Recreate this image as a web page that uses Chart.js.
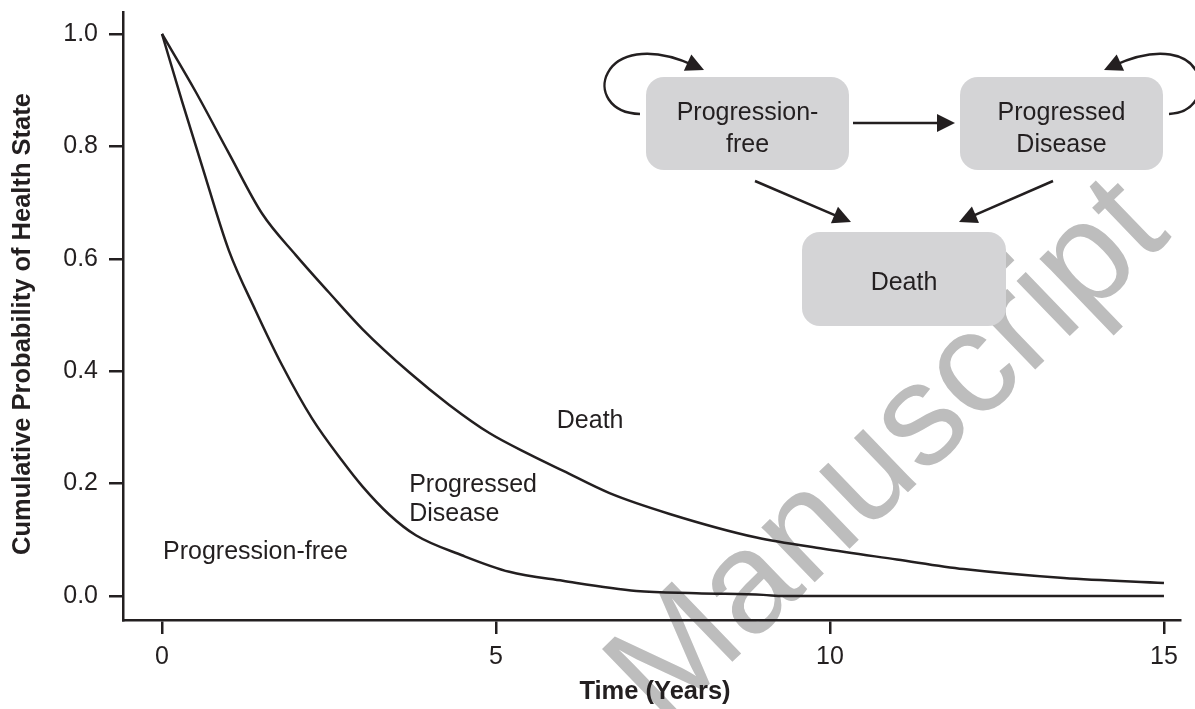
<!DOCTYPE html>
<html><head><meta charset="utf-8">
<script src="https://cdn.jsdelivr.net/npm/chart.js@4.4.1/dist/chart.umd.min.js"></script>
<style>html,body{margin:0;padding:0;background:#fff;} #wrap{width:1195px;height:709px;position:relative;}</style>
</head><body><div id="wrap"><canvas id="c"></canvas></div>
<script>
// Upper curve: probability alive (progression-free + progressed disease)
const aliveYears  = [0, 0.5, 1.0, 1.5, 2.0, 2.5, 3.0, 3.7, 4.3, 4.9, 5.5, 6.0, 6.7, 7.6, 8.9, 9.9, 11.0, 12.0, 13.5, 15];
const aliveValues = [1.0, 0.898, 0.788, 0.68, 0.607, 0.54, 0.475, 0.398, 0.34, 0.29, 0.252, 0.223, 0.183, 0.146, 0.104, 0.084, 0.065, 0.048, 0.032, 0.023];
// Lower curve: probability progression-free
const pfYears  = [0, 0.3, 0.6, 1.0, 1.4, 1.8, 2.25, 2.7, 3.0, 3.4, 3.8, 4.5, 5.2, 6.0, 7.1, 8.0, 9.0, 9.3, 15];
const pfValues = [1.0, 0.88, 0.765, 0.615, 0.508, 0.41, 0.315, 0.24, 0.195, 0.145, 0.108, 0.072, 0.043, 0.027, 0.009, 0.005, 0.002, 0, 0];
const xTicks = [0, 5, 10, 15];
const yTicks = [0, 0.2, 0.4, 0.6, 0.8, 1.0];
const regionLabels = ['Death', 'Progressed', 'Disease', 'Progression-free'];
const regionLabelX = [5.91, 3.70, 3.70, 0.015];
const regionLabelY = [0.311, 0.198, 0.146, 0.078];
const xTitle = 'Time (Years)';
const yTitle = 'Cumulative Probability of Health State';
const stateNames = [['Progression-', 'free'], ['Progressed', 'Disease'], ['Death']];

const INK = '#231f20';
const FONT = '"Liberation Sans", Arial, Helvetica, sans-serif';

function head(ctx, tx, ty, ang, len, half) {
  ctx.beginPath();
  ctx.moveTo(tx, ty);
  ctx.lineTo(tx - len * Math.cos(ang) + half * Math.sin(ang), ty - len * Math.sin(ang) - half * Math.cos(ang));
  ctx.lineTo(tx - len * Math.cos(ang) - half * Math.sin(ang), ty - len * Math.sin(ang) + half * Math.cos(ang));
  ctx.closePath();
  ctx.fill();
}
function arrow(ctx, x1, y1, x2, y2) {
  const ang = Math.atan2(y2 - y1, x2 - x1);
  ctx.beginPath();
  ctx.moveTo(x1, y1);
  ctx.lineTo(x2 - 12 * Math.cos(ang), y2 - 12 * Math.sin(ang));
  ctx.stroke();
  head(ctx, x2, y2, ang, 18, 9);
}
function loop(ctx, p0, c1, c2, p1) {
  const ang = Math.atan2(p1[1] - c2[1], p1[0] - c2[0]);
  ctx.beginPath();
  ctx.moveTo(p0[0], p0[1]);
  ctx.bezierCurveTo(c1[0], c1[1], c2[0], c2[1], p1[0] - 10 * Math.cos(ang), p1[1] - 10 * Math.sin(ang));
  ctx.stroke();
  head(ctx, p1[0], p1[1], ang, 18, 9);
}
function roundRect(ctx, x, y, w, h, r) {
  ctx.beginPath();
  ctx.moveTo(x + r, y);
  ctx.arcTo(x + w, y, x + w, y + h, r);
  ctx.arcTo(x + w, y + h, x, y + h, r);
  ctx.arcTo(x, y + h, x, y, r);
  ctx.arcTo(x, y, x + w, y, r);
  ctx.closePath();
  ctx.fill();
}

const watermark = {
  id: 'watermark',
  beforeDraw(chart) {
    const ctx = chart.ctx;
    ctx.save();
    ctx.translate(890, 454);
    ctx.rotate(-44 * Math.PI / 180);
    ctx.font = '145px ' + FONT;
    ctx.fillStyle = '#bdbdbd';
    ctx.textAlign = 'center';
    ctx.textBaseline = 'middle';
    ctx.fillText('Manuscript', 0, 0);
    ctx.restore();
  }
};

const overlay = {
  id: 'overlay',
  afterDraw(chart) {
    const ctx = chart.ctx;
    const xs = chart.scales.x, ys = chart.scales.y;
    ctx.save();
    ctx.fillStyle = INK;
    ctx.font = '25px ' + FONT;
    ctx.textAlign = 'left';
    ctx.textBaseline = 'middle';
    regionLabels.forEach((t, i) => ctx.fillText(t, xs.getPixelForValue(regionLabelX[i]), ys.getPixelForValue(regionLabelY[i])));
    ctx.font = 'bold 25.5px ' + FONT;
    ctx.textAlign = 'center';
    ctx.fillText(xTitle, 655, 692);
    ctx.save();
    ctx.translate(23, 324);
    ctx.rotate(-Math.PI / 2);
    ctx.fillText(yTitle, 0, 0);
    ctx.restore();
    const boxes = [[646, 77, 203, 93], [960, 77, 203, 93], [802, 232, 204, 94]];
    ctx.fillStyle = '#d4d4d6';
    boxes.forEach(b => roundRect(ctx, b[0], b[1], b[2], b[3], 18));
    ctx.fillStyle = INK;
    ctx.font = '25px ' + FONT;
    stateNames.forEach((lines, i) => {
      const b = boxes[i];
      const cx = b[0] + b[2] / 2, cy = b[1] + b[3] / 2 + (lines.length > 1 ? 6 : 4);
      lines.forEach((ln, j) => ctx.fillText(ln, cx, cy + (j - (lines.length - 1) / 2) * 32));
    });
    ctx.strokeStyle = INK;
    ctx.lineWidth = 2.5;
    arrow(ctx, 853, 123, 955, 123);
    arrow(ctx, 755, 181, 851, 222);
    arrow(ctx, 1053, 181, 959, 222);
    loop(ctx, [640, 114], [578, 112], [598, 22], [704, 70]);
    loop(ctx, [1169, 114], [1222, 112], [1210, 22], [1104, 70]);
    ctx.restore();
  }
};

const lineStyle = { borderColor: INK, borderWidth: 2.5, pointRadius: 0, fill: false, cubicInterpolationMode: 'monotone' };

new Chart(document.getElementById('c'), {
  type: 'line',
  data: {
    datasets: [
      Object.assign({ label: 'Alive', data: aliveYears.map((x, i) => ({ x, y: aliveValues[i] })) }, lineStyle),
      Object.assign({ label: 'Progression-free', data: pfYears.map((x, i) => ({ x, y: pfValues[i] })) }, lineStyle)
    ]
  },
  options: {
    responsive: true, maintainAspectRatio: false, animation: false, devicePixelRatio: 1,
    layout: { padding: { top: 12, right: 15, bottom: 0, left: 0 } },
    plugins: { legend: { display: false }, tooltip: { enabled: false } },
    scales: {
      x: {
        type: 'linear', min: -0.584, max: 15.24,
        afterBuildTicks: s => { s.ticks = xTicks.map(v => ({ value: v })); },
        afterFit: s => { s.height = 89; s.paddingLeft = 0; s.paddingRight = 0; },
        ticks: { autoSkip: false, maxRotation: 0, color: INK, font: { family: FONT, size: 25 }, padding: 8, callback: v => String(v) },
        grid: { drawOnChartArea: false, drawTicks: true, tickLength: 14, color: INK, lineWidth: 2.5 },
        border: { display: true, color: INK, width: 2.5 }
      },
      y: {
        type: 'linear', min: -0.0427, max: 1.039,
        afterBuildTicks: s => { s.ticks = yTicks.map(v => ({ value: v })); },
        afterFit: s => { s.width = 123; s.paddingTop = 0; s.paddingBottom = 0; },
        ticks: { autoSkip: false, color: INK, font: { family: FONT, size: 25 }, padding: 11, callback: v => v.toFixed(1) },
        grid: { drawOnChartArea: false, drawTicks: true, tickLength: 14, color: INK, lineWidth: 2.5 },
        border: { display: true, color: INK, width: 2.5 }
      }
    }
  },
  plugins: [watermark, overlay]
});
</script></body></html>
